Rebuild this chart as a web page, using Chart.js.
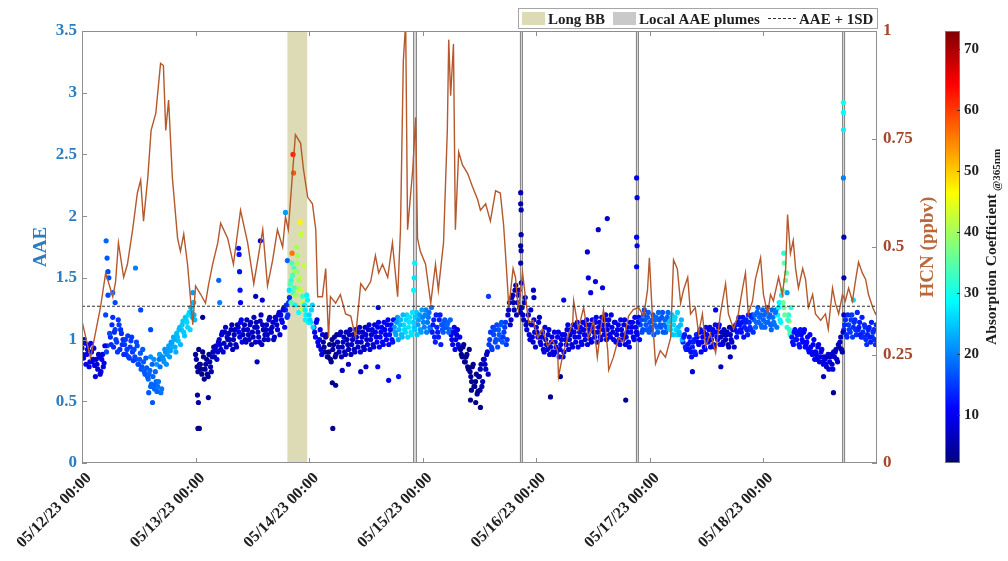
<!DOCTYPE html>
<html>
<head>
<meta charset="utf-8">
<title>AAE and HCN time series</title>
<script src="https://cdn.jsdelivr.net/npm/chart.js@4.4.0/dist/chart.umd.min.js"></script>
<style>
  body { margin: 0; background: #fff; }
  #wrap { width: 1008px; height: 561px; }
</style>
</head>
<body>
<div id="wrap"><canvas id="aaeChart" width="1008" height="561"></canvas></div>
<script>
const FONT = "'Liberation Serif', 'Times New Roman', serif";

// x axis is hours since 05/12/23 00:00
const dayLabels = ['05/12/23 00:00', '05/13/23 00:00', '05/14/23 00:00', '05/15/23 00:00',
                   '05/16/23 00:00', '05/17/23 00:00', '05/18/23 00:00'];

// HCN (ppbv), right axis
const hcnHours = [
  0.1, 1.8, 3.9, 5.0, 6.5, 7.1, 7.7, 8.8, 9.6, 10.7, 11.7, 12.4, 13.0, 13.9, 14.6, 15.6, 16.6, 17.2, 17.7, 18.3, 19.1, 20.2, 20.8, 21.5, 22.3, 23.4,
  24.0, 25.1, 26.1, 26.7, 27.6, 28.7, 29.3, 30.8, 32.0, 33.5, 35.0, 36.3, 38.2, 39.2, 40.3, 41.3, 42.4, 43.0, 43.6, 45.1, 46.2, 46.8, 47.7,
  48.7, 49.4, 49.8, 50.8, 51.5, 52.1, 52.5, 53.6, 54.6, 55.7, 56.8, 57.8, 58.9, 59.9, 61.0, 62.0, 62.7, 63.5, 64.6, 65.6, 66.7, 67.3, 67.9, 68.4, 68.8, 69.9, 70.5, 70.9, 71.5,
  72.6, 73.7, 74.7, 75.3, 76.4, 77.2, 77.5, 77.9, 78.5, 78.9, 79.6, 80.4, 81.5, 82.5, 83.6, 84.2, 85.3, 86.3, 87.4, 88.4, 89.1, 89.7, 90.2, 91.1, 91.6, 92.2, 93.1, 93.7, 94.4, 95.4,
  96.3, 97.3, 98.4, 99.4, 100.5, 100.7, 101.5, 102.6, 103.7, 103.9, 104.9, 106.0, 107.0, 108.1, 108.9, 109.6, 110.2, 111.1, 111.3, 112.3, 113.4, 114.4, 115.5, 116.5, 117.6, 118.7, 119.5, 119.9,
  120.6, 121.2, 122.2, 123.3, 124.4, 125.0, 125.8, 126.5, 127.1, 128.0, 128.6, 129.6, 130.3, 131.1, 131.8, 132.8, 133.9, 134.9, 136.0, 136.6, 137.7, 138.7, 139.6, 140.2, 140.8, 141.7, 142.3, 143.4,
  144.0, 144.9, 145.5, 146.1, 147.2, 148.0, 148.7, 149.1, 149.7, 150.3, 150.8, 151.4, 152.3, 152.9, 153.5, 154.4, 155.0, 156.1, 157.1, 157.7, 158.6, 159.2, 159.9, 160.7, 161.3, 162.0, 162.8, 163.5, 164.1, 164.9, 165.6, 166.2, 167.1, 167.7, 168.0
];
const hcnPpbv = [
  0.324, 0.243, 0.36, 0.44, 0.385, 0.42, 0.51, 0.43, 0.46, 0.54, 0.625, 0.655, 0.56, 0.66, 0.77, 0.81, 0.925, 0.92, 0.77, 0.84, 0.66, 0.52, 0.49, 0.53, 0.46, 0.32,
  0.41, 0.39, 0.37, 0.41, 0.46, 0.51, 0.555, 0.52, 0.46, 0.585, 0.51, 0.415, 0.54, 0.41, 0.47, 0.54, 0.50, 0.57, 0.54, 0.76, 0.74, 0.68, 0.615,
  0.60, 0.54, 0.385, 0.385, 0.45, 0.29, 0.385, 0.37, 0.39, 0.345, 0.34, 0.29, 0.415, 0.40, 0.42, 0.48, 0.44, 0.46, 0.43, 0.51, 0.385, 0.54, 0.93, 1.02, 0.54, 0.68, 0.80, 0.52, 0.49,
  0.46, 0.37, 0.46, 0.40, 0.51, 0.77, 0.98, 0.85, 0.97, 0.54, 0.72, 0.69, 0.67, 0.64, 0.61, 0.585, 0.60, 0.56, 0.63, 0.625, 0.55, 0.45, 0.36, 0.45, 0.43, 0.355, 0.44, 0.385, 0.325, 0.33,
  0.29, 0.31, 0.27, 0.285, 0.26, 0.20, 0.245, 0.29, 0.325, 0.375, 0.31, 0.36, 0.29, 0.33, 0.245, 0.31, 0.355, 0.26, 0.215, 0.245, 0.29, 0.28, 0.34, 0.355, 0.36, 0.34, 0.40, 0.475,
  0.325, 0.23, 0.26, 0.245, 0.29, 0.47, 0.45, 0.37, 0.40, 0.43, 0.345, 0.36, 0.30, 0.345, 0.27, 0.30, 0.255, 0.345, 0.415, 0.345, 0.31, 0.345, 0.405, 0.44, 0.345, 0.375, 0.425, 0.475,
  0.39, 0.345, 0.39, 0.375, 0.43, 0.39, 0.45, 0.575, 0.485, 0.515, 0.45, 0.405, 0.45, 0.425, 0.36, 0.39, 0.345, 0.33, 0.345, 0.31, 0.405, 0.37, 0.345, 0.39, 0.375, 0.405, 0.375, 0.425, 0.465, 0.44, 0.425, 0.39, 0.36, 0.345, 0.35
];

// AAE at :00, :20, :40 of every hour from 05/12 00:00, one row per 8 h
const aaeMain = [
  0.93, 0.85, 0.97, 0.88, 0.95, 0.82, 0.90, 0.84, 0.79, 0.84, 0.76, 0.86, 0.74, 0.88, 0.81, 1.20, 0.95, 1.50, 1.02, 1.12, 0.94, 1.08, 0.98, 1.16,
  0.92, 1.05, 1.00, 0.96, 0.88, 1.03, 0.85, 0.99, 0.90, 0.92, 0.84, 0.95, 0.80, 0.89, 0.78, 0.82, 0.72, 0.77, 0.68, 0.75, 0.64, 0.70, 0.60, 0.66,
  0.62, 0.84, 0.57, 0.86, 0.82, 0.90, 0.88, 0.95, 0.91, 0.97, 1.02, 0.94, 1.05, 0.99, 1.10, 1.08, 1.15, 1.03, 1.16, 1.10, 1.22, 1.26, 1.18, 1.20,

  0.88, 0.78, 0.92, 0.80, 0.72, 0.86, 0.76, 0.84, 0.70, 0.82, 0.74, 0.90, 0.86, 0.95, 0.90, 1.00, 0.92, 1.06, 0.97, 1.10, 1.02, 1.05, 0.96, 1.12,
  1.00, 1.08, 0.94, 1.10, 1.02, 1.16, 1.04, 1.12, 0.98, 1.08, 1.00, 1.14, 1.06, 1.18, 0.98, 1.10, 1.02, 1.15, 0.96, 1.08, 1.04, 1.12, 1.00, 1.18,
  1.06, 1.14, 1.02, 1.16, 1.08, 1.22, 1.20, 1.14, 1.26, 1.24, 1.18, 1.30, 1.45, 1.62, 1.38, 1.55, 1.75, 1.42, 1.50, 1.85, 1.30, 1.28, 1.20, 1.32,

  1.20, 1.14, 1.28, 1.10, 1.02, 1.16, 0.95, 1.08, 0.88, 0.98, 0.90, 1.04, 0.86, 0.96, 0.82, 0.92, 1.02, 0.88, 0.98, 0.90, 1.06, 0.94, 1.02, 0.88,
  1.00, 0.92, 1.08, 0.96, 1.04, 0.90, 1.02, 0.94, 1.10, 0.98, 1.06, 0.92, 1.04, 0.96, 1.12, 1.00, 1.08, 0.94, 1.06, 0.98, 1.14, 1.02, 1.10, 0.96,
  1.08, 1.00, 1.16, 1.04, 1.12, 0.98, 1.10, 1.04, 1.18, 1.08, 1.16, 1.02, 1.12, 1.06, 1.20, 1.10, 1.18, 1.04, 1.14, 1.08, 1.22, 1.12, 1.20, 1.06,

  1.18, 1.10, 1.24, 1.14, 1.22, 1.08, 1.06, 1.16, 0.98, 1.10, 1.02, 1.20, 1.12, 1.06, 1.16, 1.10, 1.14, 1.08, 1.04, 0.96, 1.10, 1.00, 1.08, 0.94,
  0.92, 0.86, 0.96, 0.82, 0.88, 0.76, 0.74, 0.66, 0.80, 0.62, 0.72, 0.58, 0.70, 0.80, 0.66, 0.84, 0.76, 0.90, 0.96, 1.06, 0.92, 1.04, 0.98, 1.12,
  1.08, 1.00, 1.14, 1.02, 1.10, 0.96, 1.20, 1.30, 1.16, 1.36, 1.24, 1.44, 1.30, 1.40, 1.22, 1.26, 1.16, 1.34, 1.08, 1.20, 1.00, 1.12, 0.98, 1.06,

  1.10, 1.02, 1.18, 0.96, 1.06, 0.90, 1.00, 0.92, 1.08, 0.94, 1.02, 0.88, 0.98, 0.90, 1.06, 0.92, 1.00, 0.86, 1.04, 0.96, 1.12, 1.00, 1.08, 0.94,
  1.06, 0.98, 1.14, 1.02, 1.10, 0.96, 1.08, 1.00, 1.16, 1.04, 1.12, 0.98, 1.10, 1.02, 1.18, 1.06, 1.14, 1.00, 1.12, 1.04, 1.20, 1.08, 1.16, 1.02,
  1.10, 1.00, 1.14, 1.04, 1.12, 0.96, 1.08, 1.00, 1.16, 1.02, 1.10, 0.94, 1.06, 1.14, 1.00, 1.10, 1.04, 1.18, 1.12, 1.06, 1.20, 1.16, 1.08, 1.22,

  1.14, 1.08, 1.20, 1.12, 1.18, 1.06, 1.16, 1.10, 1.22, 1.12, 1.06, 1.18, 1.14, 1.08, 1.20, 1.12, 1.18, 1.04, 1.10, 1.04, 1.16, 0.98, 1.04, 0.92,
  0.96, 1.02, 0.90, 0.94, 1.00, 0.88, 1.02, 0.96, 1.08, 0.98, 1.06, 0.92, 1.04, 0.98, 1.10, 1.00, 1.08, 0.94, 1.06, 1.00, 1.12, 1.02, 0.96, 1.08,
  1.00, 1.06, 0.94, 1.04, 0.98, 1.10, 1.08, 1.02, 1.14, 1.12, 1.06, 1.18, 1.10, 1.16, 1.04, 1.14, 1.08, 1.20, 1.16, 1.10, 1.22, 1.14, 1.20, 1.10,

  1.16, 1.10, 1.22, 1.14, 1.20, 1.08, 1.18, 1.12, 1.24, 1.20, 1.30, 1.14, 1.40, 1.26, 1.48, 1.10, 1.20, 1.04, 1.02, 0.96, 1.08, 1.00, 1.06, 0.94,
  1.04, 0.98, 1.08, 0.96, 1.02, 0.90, 0.94, 0.88, 1.00, 0.90, 0.84, 0.96, 0.86, 0.92, 0.80, 0.84, 0.78, 0.88, 0.82, 0.88, 0.76, 0.86, 0.92, 0.82,
  0.94, 1.02, 0.90, 1.08, 1.16, 1.02, 1.12, 1.06, 1.20, 1.10, 1.16, 1.04, 1.08, 1.14, 1.02, 1.06, 1.12, 1.00, 1.04, 1.10, 0.98, 1.02, 1.08, 0.96
];

// AAE at :10, :30, :50 of every hour
const aaeMid = [
  0.88, 1.00, 0.80, 0.92, 0.78, 0.97, 0.82, 0.93, 0.70, 0.80, 0.88, 0.72, 0.84, 0.78, 0.95, 0.90, 1.36, 1.05, 0.96, 1.18, 1.06, 1.00, 0.90, 1.12,
  1.08, 0.96, 0.88, 1.00, 0.92, 0.86, 0.94, 1.02, 0.83, 0.86, 0.98, 0.80, 0.84, 0.76, 0.92, 0.74, 0.85, 0.70, 0.72, 0.62, 0.80, 0.63, 0.74, 0.58,
  0.66, 0.78, 0.60, 0.84, 0.92, 0.80, 0.92, 0.86, 0.98, 0.94, 1.00, 0.90, 1.02, 1.08, 0.96, 1.12, 1.06, 1.18, 1.14, 1.20, 1.08, 1.22, 1.30, 1.16,

  0.84, 0.74, 0.80, 0.76, 0.90, 0.68, 0.80, 0.72, 0.88, 0.78, 0.86, 0.94, 0.92, 0.84, 0.98, 0.96, 1.04, 0.90, 1.06, 0.94, 1.00, 1.00, 1.08, 0.92,
  1.04, 0.96, 1.12, 1.06, 1.14, 0.98, 1.08, 1.00, 1.16, 1.04, 1.12, 0.96, 1.02, 1.10, 1.14, 1.06, 0.98, 1.20, 1.12, 1.00, 1.08, 1.04, 1.16, 1.08,
  1.10, 1.00, 1.18, 1.12, 1.20, 1.04, 1.16, 1.24, 1.10, 1.28, 1.20, 1.34, 1.30, 1.52, 1.42, 1.36, 1.62, 1.48, 1.40, 1.25, 1.60, 1.24, 1.36, 1.14,

  1.16, 1.24, 1.10, 1.06, 1.14, 0.98, 1.00, 0.92, 1.04, 0.94, 1.02, 0.86, 0.90, 0.84, 1.00, 0.96, 0.86, 1.04, 0.94, 1.04, 0.86, 0.98, 0.90, 1.06,
  0.96, 1.04, 0.88, 1.00, 0.92, 1.08, 0.98, 1.06, 0.90, 1.02, 0.94, 1.10, 1.00, 1.08, 0.92, 1.04, 0.96, 1.12, 1.02, 1.10, 0.94, 1.06, 0.98, 1.14,
  1.04, 1.12, 0.96, 1.08, 1.00, 1.16, 1.06, 1.14, 1.00, 1.12, 1.04, 1.20, 1.08, 1.16, 1.02, 1.14, 1.06, 1.22, 1.10, 1.18, 1.04, 1.16, 1.08, 1.24,

  1.14, 1.20, 1.06, 1.18, 1.10, 1.26, 1.12, 1.02, 1.20, 1.06, 1.16, 0.96, 1.08, 1.14, 1.10, 1.12, 1.06, 1.16, 1.00, 1.06, 0.92, 1.04, 0.96, 1.02,
  0.88, 0.94, 0.82, 0.86, 0.78, 0.92, 0.70, 0.78, 0.62, 0.66, 0.56, 0.70, 0.76, 0.62, 0.84, 0.80, 0.88, 0.72, 1.00, 0.94, 1.10, 1.08, 1.00, 0.94,
  1.04, 1.12, 0.98, 1.06, 1.14, 1.00, 1.24, 1.12, 1.34, 1.30, 1.40, 1.20, 1.36, 1.26, 1.46, 1.20, 1.30, 1.12, 1.14, 1.04, 1.24, 1.02, 1.16, 0.94,

  1.06, 1.14, 0.98, 1.02, 0.92, 1.10, 0.96, 1.04, 0.88, 0.98, 0.90, 1.06, 0.94, 1.02, 0.86, 0.96, 1.04, 0.90, 1.00, 1.08, 0.92, 1.04, 0.96, 1.12,
  1.02, 1.10, 0.94, 1.06, 0.98, 1.14, 1.04, 1.12, 0.96, 1.08, 1.00, 1.16, 1.06, 1.14, 0.98, 1.10, 1.02, 1.18, 1.08, 1.16, 1.00, 1.12, 1.04, 1.20,
  1.06, 1.14, 0.98, 1.08, 1.00, 1.16, 1.04, 1.12, 0.96, 1.06, 0.98, 1.14, 1.10, 1.02, 1.18, 1.06, 1.14, 1.00, 1.16, 1.08, 1.24, 1.12, 1.18, 1.06,

  1.10, 1.16, 1.04, 1.16, 1.10, 1.22, 1.12, 1.18, 1.06, 1.16, 1.10, 1.22, 1.10, 1.16, 1.04, 1.16, 1.08, 1.22, 1.06, 1.12, 1.00, 1.02, 0.94, 1.08,
  0.92, 0.98, 0.86, 0.98, 0.90, 1.04, 0.98, 1.06, 0.90, 1.02, 0.94, 1.10, 1.00, 1.08, 0.94, 1.04, 0.96, 1.12, 1.02, 1.10, 0.96, 1.06, 0.98, 1.04,
  1.04, 0.96, 1.10, 1.00, 1.08, 0.94, 1.12, 1.06, 1.18, 1.08, 1.14, 1.02, 1.14, 1.08, 1.20, 1.10, 1.18, 1.06, 1.20, 1.14, 1.26, 1.18, 1.12, 1.24,

  1.20, 1.14, 1.26, 1.18, 1.12, 1.24, 1.14, 1.22, 1.10, 1.26, 1.16, 1.36, 1.30, 1.20, 1.54, 1.16, 1.08, 1.26, 0.98, 1.06, 1.00, 1.04, 0.96, 1.08,
  1.00, 1.06, 0.94, 0.98, 0.92, 1.04, 0.90, 0.96, 0.84, 0.88, 0.94, 0.82, 0.90, 0.82, 0.86, 0.80, 0.86, 0.76, 0.86, 0.80, 0.90, 0.90, 0.84, 0.96,
  0.98, 0.92, 1.06, 1.12, 1.04, 1.20, 1.08, 1.16, 1.02, 1.14, 1.08, 1.22, 1.10, 1.04, 1.18, 1.02, 1.10, 0.96, 1.08, 1.02, 1.14, 1.06, 1.00, 1.12
];

// absorption coefficient @365nm, hourly means (colours the AAE points)
const absHourly = [
  9, 10, 9, 8, 9, 16, 14, 15, 14, 15, 15, 16, 17, 17, 18, 18, 19, 21, 22, 23, 24, 25, 26, 24,
  4, 3, 4, 5, 8, 8, 7, 6, 6, 10, 6, 7, 6, 7, 6, 7, 7, 8, 10, 14, 34, 40, 42, 28,
  26, 10, 9, 4, 3, 4, 6, 7, 6, 7, 8, 7, 8, 8, 10, 11, 10, 12, 22, 24, 26, 27, 25, 22,
  20, 19, 13, 13, 17, 18, 10, 9, 4, 3, 3, 4, 6, 7, 15, 16, 17, 15, 7, 6, 6, 7, 8, 8,
  8, 9, 8, 9, 10, 9, 9, 8, 9, 10, 9, 9, 10, 9, 10, 9, 9, 10, 9, 10, 10, 10, 16, 17,
  17, 18, 17, 18, 25, 26, 24, 13, 12, 13, 10, 11, 10, 10, 11, 7, 6, 7, 12, 12, 13, 14, 18, 18,
  18, 18, 19, 28, 36, 32, 12, 12, 11, 11, 10, 9, 9, 8, 8, 7, 6, 14, 15, 14, 13, 14, 13, 14
];

// individual samples off the main trend (spikes, dips, plume samples)
const extraHours = [
  5.1, 5.3, 5.5, 6.5, 7.0, 11.3, 12.4, 14.1, 14.5, 14.9, 14.5, 15.2, 15.8, 16.4, 23.4, 23.6,
  24.4, 24.5, 24.6, 24.8, 25.5, 26.7, 28.9, 29.1, 33.1, 33.2, 33.3, 33.4, 33.5, 36.7, 37.7, 38.1, 37.0, 43.0, 43.4,
  43.8, 44.2, 44.4, 44.6, 44.7, 44.8, 45.0, 45.4, 45.6, 45.8, 46.1, 46.3, 46.6, 47.2,
  52.9, 53.0, 53.6, 55.0, 56.3, 58.9, 60.0, 62.5, 62.6, 64.8, 66.9, 70.1, 70.2, 70.3,
  82.1, 82.3, 83.2, 84.1, 84.2, 85.9, 92.7, 92.7, 92.8, 92.8, 92.7, 92.8, 92.7, 95.4, 95.5,
  99.0, 101.1, 101.8, 106.8, 107.0, 107.5, 108.5, 109.1, 110.0, 111.0, 114.9, 117.2, 117.3, 117.2, 117.3, 117.2,
  129.0, 135.0, 137.0, 133.9,
  148.3, 148.4, 149.0, 149.6, 149.4, 156.7, 158.8, 160.9, 160.9, 160.9, 160.9, 161.0, 161.0, 161.0, 163.0
];
const extraAAE = [
  1.80, 1.66, 1.55, 1.38, 1.30, 1.58, 1.24, 0.57, 1.08, 0.49, 0.86, 0.84, 0.80, 0.88, 1.38, 1.30,
  0.55, 0.28, 0.49, 0.28, 1.18, 0.53, 1.48, 1.30, 1.74, 1.69, 1.55, 1.40, 1.30, 1.35, 1.80, 1.32, 0.82, 2.03, 1.64,
  1.40, 1.48, 1.70, 2.50, 2.35, 1.58, 1.28, 1.55, 1.68, 1.22, 1.95, 1.85, 1.35, 1.16,
  0.65, 0.28, 0.63, 0.75, 0.80, 0.74, 0.78, 0.78, 1.26, 0.67, 0.70, 1.40, 1.50, 1.62,
  0.51, 0.59, 0.49, 0.59, 0.45, 1.35, 2.19, 2.10, 2.05, 1.85, 1.76, 1.72, 1.62, 1.40, 1.34,
  0.535, 0.70, 1.32, 1.71, 1.50, 1.38, 1.47, 1.89, 1.42, 1.98, 0.51, 2.31, 2.15, 1.83, 1.76, 1.59,
  0.74, 0.78, 0.86, 1.24,
  1.70, 1.62, 1.38, 1.05, 1.15, 0.70, 0.57, 2.92, 2.84, 2.70, 2.31, 1.83, 1.50, 1.20, 1.32
];
const extraAbs = [
  18, 17, 16, 18, 16, 20, 16, 17, 16, 17, 21, 21, 22, 22, 22, 22,
  4, 3, 4, 3, 4, 4, 18, 20, 12, 12, 12, 12, 11, 7, 8, 8, 6, 22, 18,
  27, 32, 56, 62, 58, 34, 29, 38, 40, 30, 47, 45, 33, 28,
  3, 3, 4, 6, 6, 7, 7, 10, 10, 11, 12, 28, 27, 28,
  3, 3, 3, 4, 3, 15, 5, 5, 5, 5, 5, 5, 5, 7, 7,
  4, 4, 9, 8, 9, 9, 9, 8, 9, 8, 4, 10, 10, 11, 10, 10,
  8, 7, 6, 10,
  32, 35, 22, 42, 38, 7, 4, 30, 29, 28, 20, 6, 6, 6, 26
];

// shaded periods [start, end] in hours
const longBBWindows = [[43.4, 47.6]];
const plumeWindows = [[70.0, 70.8], [92.5, 93.2], [117.0, 117.7], [160.6, 161.3]];
const aaeThreshold = 1.27;          // AAE + 1SD
const absRange = [2.2, 72.9];       // colour scale limits
const absTicks = [10, 20, 30, 40, 50, 60, 70];

// jet colormap
function jet(v) {
  const t = Math.min(1, Math.max(0, (v - absRange[0]) / (absRange[1] - absRange[0])));
  const c = k => Math.round(255 * Math.min(1, Math.max(0, 1.5 - Math.abs(4 * t - k))));
  return `rgb(${c(3)},${c(2)},${c(1)})`;
}

const mainPoints = aaeMain.map((v, i) => ({ x: i / 3, y: v }))
  .concat(aaeMid.map((v, i) => ({ x: i / 3 + 1 / 6, y: v })));
const mainColors = aaeMain.map((v, i) => jet(absHourly[Math.floor(i / 3)]))
  .concat(aaeMid.map((v, i) => jet(absHourly[Math.floor(i / 3)])));
const extraPoints = extraHours.map((h, i) => ({ x: h, y: extraAAE[i] }));
const extraColors = extraAbs.map(jet);
const hcnPoints = hcnHours.map((h, i) => ({ x: h, y: hcnPpbv[i] }));

const AAE_BLUE = '#2b7dc0';
const HCN_BROWN = '#b5582b';

function bold(size) { return `bold ${size}px ${FONT}`; }

function verticalText(ctx, text, x, y, font, color) {
  ctx.save();
  ctx.translate(x, y);
  ctx.rotate(-Math.PI / 2);
  ctx.font = font;
  ctx.fillStyle = color;
  ctx.textAlign = 'center';
  ctx.textBaseline = 'middle';
  ctx.fillText(text, 0, 0);
  ctx.restore();
}

// shaded Long BB / plume periods, under the data
const bandsPlugin = {
  id: 'bands',
  beforeDatasetsDraw(chart) {
    const { ctx, chartArea: { top, bottom }, scales: { x } } = chart;
    ctx.save();
    ctx.fillStyle = '#dddab6';
    longBBWindows.forEach(([a, b]) => {
      const x0 = x.getPixelForValue(a), x1 = x.getPixelForValue(b);
      ctx.fillRect(x0, top, x1 - x0, bottom - top);
    });
    plumeWindows.forEach(([a, b]) => {
      const x0 = x.getPixelForValue(a), x1 = x.getPixelForValue(b);
      ctx.fillStyle = 'rgba(200,200,200,0.8)';
      ctx.fillRect(x0, top, x1 - x0, bottom - top);
      ctx.strokeStyle = 'rgba(120,120,120,0.8)';
      ctx.lineWidth = 1;
      ctx.beginPath();
      ctx.moveTo(Math.round(x0) + 0.5, top); ctx.lineTo(Math.round(x0) + 0.5, bottom);
      ctx.moveTo(Math.round(x1) - 0.5, top); ctx.lineTo(Math.round(x1) - 0.5, bottom);
      ctx.stroke();
    });
    ctx.restore();
  }
};

// axes box with inward tick marks
const framePlugin = {
  id: 'frame',
  afterDatasetsDraw(chart) {
    const { ctx, chartArea: { left, right, top, bottom }, scales: { x, y, y1 } } = chart;
    ctx.save();
    ctx.strokeStyle = '#8e8e8e';
    ctx.lineWidth = 1;
    ctx.strokeRect(left + 0.5, top + 0.5, right - left - 1, bottom - top - 1);
    ctx.beginPath();
    x.ticks.forEach(t => {
      const px = Math.round(x.getPixelForValue(t.value)) + 0.5;
      ctx.moveTo(px, bottom); ctx.lineTo(px, bottom - 5);
      ctx.moveTo(px, top); ctx.lineTo(px, top + 5);
    });
    y.ticks.forEach(t => {
      const py = Math.round(y.getPixelForValue(t.value)) + 0.5;
      ctx.moveTo(left, py); ctx.lineTo(left + 5, py);
    });
    y1.ticks.forEach(t => {
      const py = Math.round(y1.getPixelForValue(t.value)) + 0.5;
      ctx.moveTo(right, py); ctx.lineTo(right - 5, py);
    });
    ctx.stroke();
    ctx.restore();
  }
};

// axis titles, legend and colour bar
const decorPlugin = {
  id: 'decor',
  afterDraw(chart) {
    const { ctx, chartArea: { top, bottom } } = chart;
    const midY = (top + bottom) / 2;
    verticalText(ctx, 'AAE', 41, midY, bold(19), AAE_BLUE);
    verticalText(ctx, 'HCN (ppbv)', 928, midY, bold(19), '#b8683a');

    // legend
    ctx.save();
    ctx.fillStyle = '#fff';
    ctx.fillRect(518.5, 8.5, 359, 20);
    ctx.strokeStyle = '#a5a5a5';
    ctx.lineWidth = 1;
    ctx.strokeRect(518.5, 8.5, 359, 20);
    ctx.fillStyle = '#dddab6';
    ctx.fillRect(522, 12, 23, 13);
    ctx.fillStyle = '#c9c9c9';
    ctx.fillRect(613, 12, 23, 13);
    ctx.strokeStyle = '#333';
    ctx.setLineDash([3, 2]);
    ctx.beginPath();
    ctx.moveTo(768, 18.5); ctx.lineTo(797, 18.5);
    ctx.stroke();
    ctx.setLineDash([]);
    ctx.font = bold(15);
    ctx.fillStyle = '#1e1e1e';
    ctx.textBaseline = 'alphabetic';
    ctx.textAlign = 'left';
    ctx.fillText('Long BB', 548, 24);
    ctx.fillText('Local AAE plumes', 639, 24);
    ctx.fillText('AAE + 1SD', 799, 24);

    // colour bar
    const cx0 = 945, cx1 = 960;
    const grad = ctx.createLinearGradient(0, bottom, 0, top);
    for (let i = 0; i <= 40; i++) {
      const f = i / 40;
      grad.addColorStop(f, jet(absRange[0] + f * (absRange[1] - absRange[0])));
    }
    ctx.fillStyle = grad;
    ctx.fillRect(cx0, top, cx1 - cx0, bottom - top);
    ctx.strokeStyle = '#777';
    ctx.strokeRect(cx0 + 0.5, top + 0.5, cx1 - cx0 - 1, bottom - top - 1);
    ctx.font = bold(15);
    ctx.fillStyle = '#1e1e1e';
    ctx.textBaseline = 'middle';
    ctx.beginPath();
    absTicks.forEach(v => {
      const py = bottom - (v - absRange[0]) / (absRange[1] - absRange[0]) * (bottom - top);
      ctx.moveTo(cx1 - 3, Math.round(py) + 0.5); ctx.lineTo(cx1, Math.round(py) + 0.5);
      ctx.fillText(String(v), 964, py);
    });
    ctx.strokeStyle = '#333';
    ctx.stroke();

    // colour bar title with subscript
    ctx.translate(991, midY);
    ctx.rotate(-Math.PI / 2);
    const mainTxt = 'Absorption Coefficient', subTxt = '@365nm';
    ctx.font = bold(15.5);
    const w1 = ctx.measureText(mainTxt).width + 3;
    ctx.font = bold(11);
    const w2 = ctx.measureText(subTxt).width;
    const x0 = -(w1 + w2) / 2;
    ctx.textAlign = 'left';
    ctx.textBaseline = 'alphabetic';
    ctx.font = bold(15.5);
    ctx.fillText(mainTxt, x0, 5);
    ctx.font = bold(11);
    ctx.fillText(subTxt, x0 + w1, 9);
    ctx.restore();
  }
};

new Chart(document.getElementById('aaeChart'), {
  type: 'scatter',
  data: {
    datasets: [
      {
        label: 'HCN',
        type: 'line',
        data: hcnPoints,
        yAxisID: 'y1',
        borderColor: HCN_BROWN,
        borderWidth: 1.4,
        pointRadius: 0,
        tension: 0,
        order: 1
      },
      {
        label: 'AAE + 1SD',
        type: 'line',
        data: [{ x: 0, y: aaeThreshold }, { x: 168, y: aaeThreshold }],
        yAxisID: 'y',
        borderColor: '#2a2a2a',
        borderWidth: 1,
        borderDash: [3, 2],
        pointRadius: 0,
        order: 0
      },
      {
        label: 'AAE',
        data: mainPoints,
        yAxisID: 'y',
        backgroundColor: mainColors,
        borderWidth: 0,
        pointRadius: 2.6,
        order: 2
      },
      {
        label: 'AAE samples',
        data: extraPoints,
        yAxisID: 'y',
        backgroundColor: extraColors,
        borderWidth: 0,
        pointRadius: 2.6,
        order: 2
      }
    ]
  },
  options: {
    responsive: false,
    animation: false,
    layout: { padding: { top: 31, right: 71, left: 0, bottom: 0 } },
    plugins: { legend: { display: false }, tooltip: { enabled: false } },
    scales: {
      x: {
        type: 'linear',
        min: 0,
        max: 168,
        afterFit: s => { s.height = 98; },
        afterBuildTicks: s => { s.ticks = dayLabels.map((_, i) => ({ value: i * 24 })); },
        ticks: {
          autoSkip: false,
          minRotation: 45,
          maxRotation: 45,
          padding: 6,
          labelOffset: 7,
          color: '#1e1e1e',
          font: { family: FONT, size: 16, weight: 'bold' },
          callback: v => dayLabels[Math.round(v / 24)] || ''
        },
        grid: { display: false, drawTicks: false },
        border: { display: false }
      },
      y: {
        position: 'left',
        min: 0,
        max: 3.5,
        afterFit: s => { s.width = 82; },
        ticks: {
          stepSize: 0.5,
          padding: 5,
          color: AAE_BLUE,
          font: { family: FONT, size: 17, weight: 'bold' },
          callback: v => String(+v.toFixed(2))
        },
        grid: { display: false, drawTicks: false },
        border: { display: false }
      },
      y1: {
        position: 'right',
        min: 0,
        max: 1,
        afterFit: s => { s.width = 60; },
        ticks: {
          stepSize: 0.25,
          padding: 6,
          color: '#a3472e',
          font: { family: FONT, size: 17, weight: 'bold' },
          callback: v => String(+v.toFixed(2))
        },
        grid: { display: false, drawTicks: false },
        border: { display: false }
      }
    }
  },
  plugins: [bandsPlugin, framePlugin, decorPlugin]
});
</script>
</body>
</html>
